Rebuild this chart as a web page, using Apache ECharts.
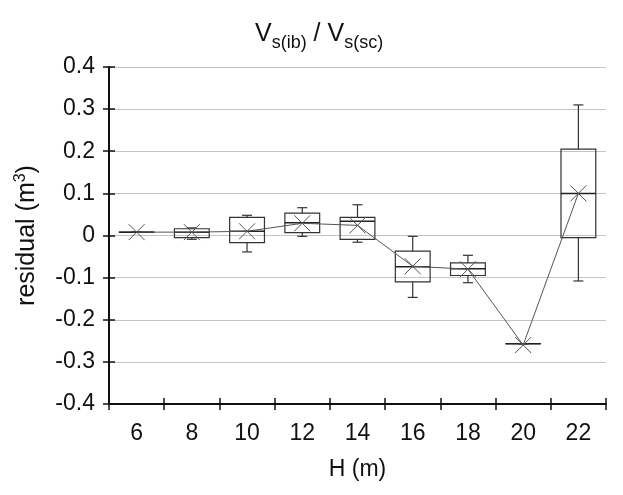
<!DOCTYPE html>
<html>
<head>
<meta charset="utf-8">
<script src="https://cdn.jsdelivr.net/npm/echarts@6/dist/echarts.min.js"></script>
<style>
  html, body { margin: 0; padding: 0; background: #fff; }
</style>
</head>
<body>
<div id="main" style="width: 623px;height:495px;"></div>
<script>
// H (m) categories
var categories = ['6', '8', '10', '12', '14', '16', '18', '20', '22'];
// box plot values
var whiskerLow  = [0.008, -0.009, -0.039, -0.002, -0.016, -0.147, -0.112, -0.257, -0.108];
var q1          = [0.008, -0.005, -0.017,  0.007, -0.009, -0.110, -0.095, -0.257, -0.005];
var median      = [0.008,  0.008,  0.010,  0.030,  0.034, -0.074, -0.079, -0.257,  0.100];
var q3          = [0.008,  0.016,  0.043,  0.053,  0.043, -0.037, -0.065, -0.257,  0.205];
var whiskerHigh = [0.008,  0.018,  0.048,  0.066,  0.073, -0.002, -0.047, -0.257,  0.310];
// mean (x markers joined by the line)
var mean        = [0.008,  0.008,  0.010,  0.029,  0.024, -0.073, -0.080, -0.260,  0.100];

var boxRows = categories.map(function (c, i) {
  return [i, whiskerLow[i], q1[i], median[i], q3[i], whiskerHigh[i]];
});

var font = 'Liberation Sans, Arial, sans-serif';

function renderBox(params, api) {
  var i = api.value(0);
  var x = api.coord([i, 0])[0];
  var half = api.size([1, 0])[0] * 0.315;
  var yLo = api.coord([i, api.value(1)])[1];
  var yQ1 = api.coord([i, api.value(2)])[1];
  var yMed = api.coord([i, api.value(3)])[1];
  var yQ3 = api.coord([i, api.value(4)])[1];
  var yHi = api.coord([i, api.value(5)])[1];
  var cap = 5;
  var st = { stroke: '#333', lineWidth: 1.2, fill: null };
  return {
    type: 'group',
    children: [
      { type: 'rect', shape: { x: x - half, y: yQ3, width: half * 2, height: Math.max(yQ1 - yQ3, 0.01) }, style: st },
      { type: 'line', shape: { x1: x - half, y1: yMed, x2: x + half, y2: yMed }, style: { stroke: '#222', lineWidth: 1.5 } },
      { type: 'line', shape: { x1: x, y1: yQ3, x2: x, y2: yHi }, style: st },
      { type: 'line', shape: { x1: x - cap, y1: yHi, x2: x + cap, y2: yHi }, style: st },
      { type: 'line', shape: { x1: x, y1: yQ1, x2: x, y2: yLo }, style: st },
      { type: 'line', shape: { x1: x - cap, y1: yLo, x2: x + cap, y2: yLo }, style: st }
    ]
  };
}

var myChart = echarts.init(document.getElementById('main'));

var option = {
  backgroundColor: '#fff',
  animation: false,
  title: {
    text: '{v|V}{s|s(ib)}{v| / V}{s|s(sc)}',
    left: 250,
    top: 14,
    textStyle: {
      rich: {
        v: { fontFamily: font, fontSize: 25, fontWeight: 'normal', color: '#111', lineHeight: 30 },
        s: { fontFamily: font, fontSize: 18, fontWeight: 'normal', color: '#111', lineHeight: 18, padding: [18, 0, 0, 0] }
      }
    }
  },
  grid: { left: 109, right: 17, top: 67, bottom: 91 },
  xAxis: [
    {
      type: 'category',
      data: categories,
      name: 'H (m)',
      nameLocation: 'middle',
      nameGap: 54,
      nameTextStyle: { fontFamily: font, fontSize: 23, color: '#111' },
      axisLine: { onZero: false, lineStyle: { color: '#111', width: 2 } },
      axisTick: { show: true, length: 6, alignWithLabel: false, lineStyle: { color: '#111', width: 1.5 } },
      axisLabel: { fontFamily: font, fontSize: 23, color: '#111', margin: 18 },
      splitLine: { show: false }
    },
    {
      type: 'category',
      data: categories,
      position: 'bottom',
      axisLine: { show: false, onZero: false },
      axisTick: { show: true, inside: true, length: 6, lineStyle: { color: '#111', width: 1.5 } },
      axisLabel: { show: false },
      splitLine: { show: false }
    }
  ],
  yAxis: [
    {
      type: 'value',
      min: -0.4,
      max: 0.4,
      interval: 0.1,
      name: 'residual (m{sup|3})',
      nameLocation: 'middle',
      nameGap: 68,
      nameTextStyle: {
        fontFamily: font, fontSize: 25, color: '#111',
        rich: {
          sup: { fontFamily: font, fontSize: 16, color: '#111', padding: [0, 0, 12, 0] }
        }
      },
      axisLine: { show: true, onZero: false, lineStyle: { color: '#111', width: 2 } },
      axisTick: { show: true, length: 6, lineStyle: { color: '#111', width: 1.5 } },
      axisLabel: { fontFamily: font, fontSize: 23, color: '#111', margin: 14 },
      splitLine: { show: true, lineStyle: { color: '#c4c4c4', width: 1 } }
    },
    {
      type: 'value',
      min: -0.4,
      max: 0.4,
      interval: 0.1,
      position: 'left',
      axisLine: { show: false, onZero: false },
      axisTick: { show: true, inside: true, length: 6, lineStyle: { color: '#111', width: 1.5 } },
      axisLabel: { show: false },
      splitLine: { show: false }
    }
  ],
  series: [
    {
      type: 'custom',
      renderItem: renderBox,
      data: boxRows,
      encode: { x: 0, y: [1, 2, 3, 4, 5] },
      z: 2
    },
    {
      type: 'line',
      data: mean,
      symbol: 'path://M0,0L10,10M10,0L0,10',
      symbolSize: 16,
      showAllSymbol: true,
      itemStyle: { color: 'none', borderColor: '#555', borderWidth: 1 },
      lineStyle: { color: '#555', width: 1 },
      z: 3
    }
  ]
};

myChart.setOption(option);
window.addEventListener('resize', function () {
  myChart.resize();
});
</script>
</body>
</html>
